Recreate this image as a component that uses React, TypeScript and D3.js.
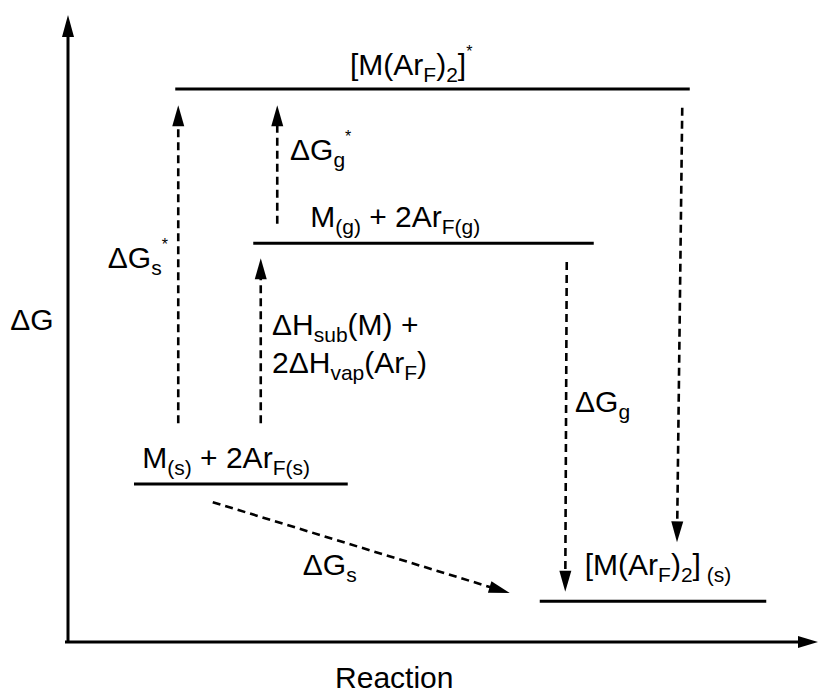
import React from "react";
import * as d3 from "d3";

const W = 819;
const H = 697;

// Energy levels (x in reaction-coordinate units, G in arbitrary energy units)
const levelNames = ["[M(ArF)2]*", "M(g)+2ArF(g)", "M(s)+2ArF(s)", "[M(ArF)2](s)"];
const levelG = [88.2, 63.6, 25.2, 6.5];
const levelX0 = [14.3, 24.7, 8.8, 62.9];
const levelX1 = [82.9, 70.1, 37.3, 93.1];

// Dashed arrows: start (x0,g0) -> tip (x1,g1)
const arrowNames = ["dGs*", "dGg*", "dHsub", "dGg", "dGdown", "dGs"];
const arrowX0 = [14.7, 27.9, 25.7, 66.5, 81.9, 19.3];
const arrowG0 = [34.9, 66.7, 34.9, 60.6, 85.2, 22.3];
const arrowX1 = [14.7, 27.9, 25.7, 66.3, 81.2, 58.9];
const arrowG1 = [85.6, 85.6, 61.2, 8.0, 15.9, 7.8];

// Labels: parts with mode n (normal), b (subscript), p (superscript)
type Part = [string, "n" | "b" | "p"];
const labelParts: Part[][] = [
  [["[M(Ar", "n"], ["F", "b"], [")", "n"], ["2", "b"], ["]", "n"], ["*", "p"]],
  [["M", "n"], ["(g)", "b"], [" + 2Ar", "n"], ["F(g)", "b"]],
  [["\u0394G", "n"], ["g", "b"], ["*", "p"]],
  [["\u0394G", "n"], ["s", "b"], ["*", "p"]],
  [["\u0394H", "n"], ["sub", "b"], ["(M) +", "n"]],
  [["2\u0394H", "n"], ["vap", "b"], ["(Ar", "n"], ["F", "b"], [")", "n"]],
  [["M", "n"], ["(s)", "b"], [" + 2Ar", "n"], ["F(s)", "b"]],
  [["\u0394G", "n"], ["g", "b"]],
  [["\u0394G", "n"], ["s", "b"]],
  [["[M(Ar", "n"], ["F", "b"], [")", "n"], ["2", "b"], ["]", "n"], [" (s)", "b"]],
];
const labelX = [37.6, 32.3, 29.6, 5.3, 27.2, 27.2, 9.9, 67.6, 31.3, 68.9];
const labelG = [90.4, 66.2, 76.9, 59.6, 49.0, 42.9, 27.8, 36.7, 10.7, 10.7];

const axisYLabel = "\u0394G";
const axisXLabel = "Reaction";

const FONT = "'Liberation Sans', Arial, Helvetica, sans-serif";
const FS = 30;
const SUB = 21;

function Rich({ parts, x, y }: { parts: Part[]; x: number; y: number }) {
  let off = 0;
  const spans = parts.map((p, i) => {
    const target = p[1] === "b" ? 7 : p[1] === "p" ? -18 : 0;
    const dy = target - off;
    off = target;
    const fs = p[1] === "b" ? SUB : p[1] === "p" ? 16 : FS;
    return (
      <tspan key={i} dy={dy} fontSize={fs} style={{ whiteSpace: "pre" }}>
        {p[0]}
      </tspan>
    );
  });
  return (
    <text x={x} y={y} fontFamily={FONT} fontSize={FS} fill="#000" style={{ whiteSpace: "pre" }}>
      {spans}
    </text>
  );
}

function arrowHead(x0: number, y0: number, x1: number, y1: number, len: number, hw: number) {
  const a = Math.atan2(y1 - y0, x1 - x0);
  const bx = x1 - len * Math.cos(a);
  const by = y1 - len * Math.sin(a);
  const px = -Math.sin(a) * hw;
  const py = Math.cos(a) * hw;
  const p = d3.path();
  p.moveTo(x1, y1);
  p.lineTo(bx + px, by + py);
  p.lineTo(bx - px, by - py);
  p.closePath();
  return p.toString();
}

export default function App() {
  const x = d3.scaleLinear().domain([0, 100]).range([68, 818]);
  const y = d3.scaleLinear().domain([0, 100]).range([642, 15]);

  const headLen = 21;
  return (
    <svg width={W} height={H} style={{ display: "block", position: "absolute", left: 0, top: 0, background: "#fff" }}>
      {/* axes */}
      <line x1={x(0)} y1={y(0) + 1} x2={x(0)} y2={y(100) + 18} stroke="#000" strokeWidth={3} />
      <path d={arrowHead(x(0), y(0), x(0), y(100), 22, 6)} fill="#000" />
      <line x1={x(-0.4)} y1={y(0)} x2={x(100) - 16} y2={y(0)} stroke="#000" strokeWidth={3} />
      <path d={arrowHead(x(0), y(0), x(100), y(0), 20, 6)} fill="#000" />

      {/* levels */}
      {levelNames.map((n, i) => (
        <line key={n} x1={x(levelX0[i])} x2={x(levelX1[i])} y1={y(levelG[i])} y2={y(levelG[i])} stroke="#000" strokeWidth={3} />
      ))}

      {/* dashed arrows */}
      {arrowNames.map((n, i) => {
        const sx = x(arrowX0[i]);
        const sy = y(arrowG0[i]);
        const ex = x(arrowX1[i]);
        const ey = y(arrowG1[i]);
        const a = Math.atan2(ey - sy, ex - sx);
        const lx = ex - (headLen - 2) * Math.cos(a);
        const ly = ey - (headLen - 2) * Math.sin(a);
        return (
          <g key={n}>
            <line x1={sx} y1={sy} x2={lx} y2={ly} stroke="#000" strokeWidth={2.6} strokeDasharray="8 5" />
            <path d={arrowHead(sx, sy, ex, ey, headLen, 6)} fill="#000" />
          </g>
        );
      })}

      {/* labels */}
      {labelParts.map((parts, i) => (
        <Rich key={i} parts={parts} x={x(labelX[i])} y={y(labelG[i])} />
      ))}

      <text x={x(-7.7)} y={y(49.8)} fontFamily={FONT} fontSize={FS} fill="#000">
        {axisYLabel}
      </text>
      <text x={x(43.5)} y={y(-7.4)} textAnchor="middle" fontFamily={FONT} fontSize={FS} fill="#000">
        {axisXLabel}
      </text>
    </svg>
  );
}
